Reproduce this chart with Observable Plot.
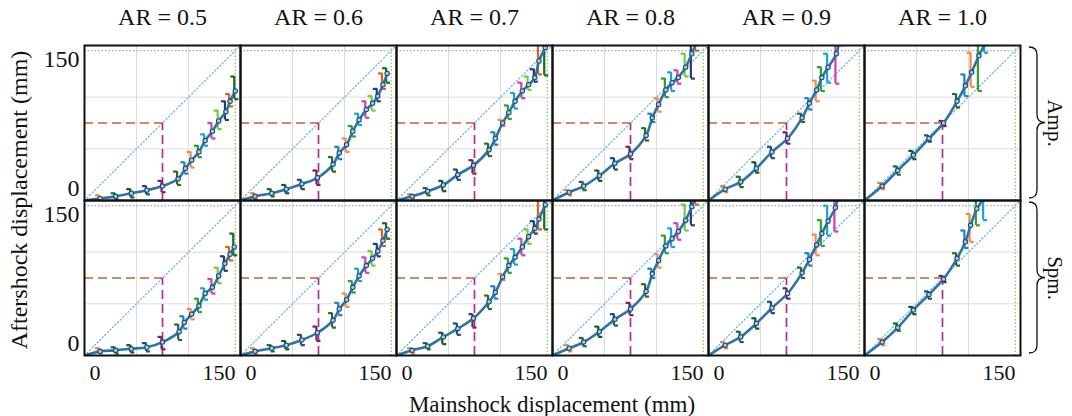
<!DOCTYPE html>
<html>
<head>
<meta charset="utf-8">
<script src="https://cdn.jsdelivr.net/npm/d3@7"></script>
<script src="https://cdn.jsdelivr.net/npm/@observablehq/plot@0.6"></script>
<style>
  html, body { margin: 0; padding: 0; background: #fff; }
  svg { font-family: "Liberation Serif", "Times New Roman", serif; }
</style>
</head>
<body>
<div id="chart"></div>
<script>
// ---- categories ----
const arLabels = ["0.5", "0.6", "0.7", "0.8", "0.9", "1.0"];
const responseRows = ["Amp.", "Spm."];
const bracketColors = ["#f07f30", "#1b6e20", "#0f5a1a", "#1d4f7a", "#7a1f5c", "#2e6b1f", "#1f7fc4",
  "#f4894a", "#2ca02c", "#19a0e6", "#d63fa8", "#74c93a", "#1f3f6a", "#e4611b", "#136b1b"];
const gridTicks = [50, 100];
const axisTicks = [0, 150];
const diagonal = [[0, 0], [150, 150]];
const thresholdDisp = 75;
const capacityDisp = 145;

// ---- series: [mainshock, aftershock, bracket low, bracket high] ----
const amp05 = [[15,2,0,5],[30,4,1,7],[45,7,3,11],[60,10,6,14],[75,14,8,19],[90,21,15,28],[97,31,26,37],[103,39,32,47],[110,47,42,53],[116,58,53,64],[123,67,60,75],[129,77,69,87],[136,86,78,96],[140,96,91,103],[145,106,98,120]];
const amp06 = [[14,4,1,7],[30,7,4,11],[44,11,7,15],[59,16,11,20],[74,22,15,29],[89,35,28,42],[95,46,40,52],[102,54,47,60],[108,67,62,72],[114,78,73,84],[121,88,80,96],[127,94,87,101],[132,101,96,108],[137,112,108,123],[141,123,114,128]];
const amp07 = [[15,4,2,6],[30,9,5,12],[45,15,9,19],[59,25,20,30],[74,34,26,39],[89,49,43,55],[95,60,54,66],[102,75,72,78],[108,85,79,92],[114,96,89,104],[121,106,99,114],[127,112,107,120],[133,119,115,127],[137,135,122,160],[143,148,121,170]];
const amp08 = [[16,8,5,10],[30,14,10,18],[45,24,19,29],[60,36,30,41],[75,45,40,52],[90,63,58,70],[96,80,76,84],[102,93,86,99],[109,107,100,118],[115,114,106,124],[121,119,113,126],[128,129,120,142],[134,142,118,153],[138,152,145,170]];
const amp09 = [[16,11,8,14],[31,18,13,23],[46,31,27,37],[61,47,41,52],[76,60,55,66],[90,80,76,84],[97,94,88,99],[104,107,96,116],[109,119,106,129],[115,129,114,142],[123,142,113,160],[126,158,150,165]];
const amp10 = [[17,14,11,17],[32,29,25,33],[47,44,40,48],[62,60,57,63],[76,75,72,77],[89,96,90,103],[97,111,101,122],[103,124,110,143],[110,140,106,165],[116,152,143,170]];
const spm05 = [[15,4,1,7],[30,5,2,8],[45,6.5,3,10],[60,8,4,12],[75,13,6,18],[91,23,15,30],[96,32,26,38],[103,40,35,45],[110,48,42,55],[116,60,54,65],[123,66,60,74],[129,77,70,85],[135,89,82,96],[140,98,92,105],[144,105,97,118]];
const spm06 = [[14,4,1,7],[30,7,4,10],[44,10,6,14],[59,15,10,20],[74,22,14,28],[89,34,27,41],[95,45,39,51],[102,54,47,60],[108,66,61,72],[114,77,72,84],[121,87,80,95],[127,94,87,101],[132,101,96,108],[137,111,106,122],[141,122,113,128]];
const spm07 = [[15,5,2,7],[30,9,6,12],[45,18,11,22],[59,26,20,31],[74,36,27,40],[89,52,45,58],[95,61,55,67],[102,76,73,79],[108,87,80,94],[114,95,88,103],[121,105,97,113],[127,115,108,122],[133,123,118,130],[137,132,122,160],[143,146,122,170]];
const spm08 = [[16,7,4,10],[30,13,9,17],[45,23,18,28],[60,35,29,40],[75,45,39,51],[90,62,57,69],[96,79,75,84],[102,92,85,98],[109,106,99,116],[115,113,105,123],[121,120,112,128],[128,131,121,146],[134,144,126,155],[138,154,146,170]];
const spm09 = [[16,10,7,13],[31,18,13,23],[46,31,26,36],[61,46,41,52],[76,60,55,65],[90,80,75,85],[97,93,87,99],[104,107,97,117],[109,118,106,131],[115,130,116,145],[122,143,120,160],[125,158,150,165]];
const spm10 = [[17,13,10,16],[32,27,24,31],[47,44,40,47],[62,59,55,62],[76,74,71,77],[89,94,87,99],[97,110,104,121],[102,126,110,137],[108,142,126,165],[115,152,131,170]];

const panelSeries = [
  ["0.5", "Amp.", amp05], ["0.6", "Amp.", amp06], ["0.7", "Amp.", amp07],
  ["0.8", "Amp.", amp08], ["0.9", "Amp.", amp09], ["1.0", "Amp.", amp10],
  ["0.5", "Spm.", spm05], ["0.6", "Spm.", spm06], ["0.7", "Spm.", spm07],
  ["0.8", "Spm.", spm08], ["0.9", "Spm.", spm09], ["1.0", "Spm.", spm10]
];

// ---- tables built from the arrays ----
const points = [];
const lineRows = [];
for (const [ar, row, pts] of panelSeries) {
  const key = ar + row;
  lineRows.push({ar, row, key, x: 0, y: 0});
  pts.forEach(([x, y, lo, hi], i) => {
    points.push({ar, row, key, x, y, lo, hi, i});
    lineRows.push({ar, row, key, x, y});
  });
}

// small cap symbols for the range brackets
const capLeft = {draw(ctx, size) { const r = Math.sqrt(size / Math.PI); ctx.moveTo(0, 0); ctx.lineTo(-r, 0); }};
const capRight = {draw(ctx, size) { const r = Math.sqrt(size / Math.PI); ctx.moveTo(0, 0); ctx.lineTo(r, 0); }};

const W = 1072, H = 416, mL = 83, mR = 52, mT = 45, mB = 61;
const FONT = 24;
const TICKFONT = 22;
const FAMILY = '"Liberation Serif", "Times New Roman", serif';

const chart = Plot.plot({
  width: W, height: H,
  marginLeft: mL, marginRight: mR, marginTop: mT, marginBottom: mB,
  style: {fontFamily: FAMILY, fontSize: FONT + "px", color: "#111", background: "white"},
  x: {domain: [0, 150]},
  y: {domain: [0, 150]},
  fx: {domain: arLabels, padding: 0},
  fy: {domain: responseRows, padding: 0},
  color: {type: "ordinal", domain: d3.range(bracketColors.length), range: bracketColors},
  marks: [
    Plot.gridX(gridTicks, {stroke: "#dcdcdc", strokeOpacity: 1}),
    Plot.gridY(gridTicks, {stroke: "#dcdcdc", strokeOpacity: 1}),
    Plot.line(diagonal, {stroke: "#6ab8ee", strokeWidth: 1.3, strokeDasharray: "1.2,2.4"}),
    Plot.ruleY([capacityDisp], {x1: 0, x2: capacityDisp, stroke: "#9aaab8", strokeWidth: 1.4, strokeDasharray: "1.5,2"}),
    Plot.ruleX([capacityDisp], {stroke: "#9ccf6a", strokeWidth: 1.4, strokeDasharray: "1.5,2"}),
    Plot.ruleY([thresholdDisp], {x1: 0, x2: thresholdDisp, stroke: "#c4622d", strokeWidth: 1.7, strokeDasharray: "9,5"}),
    Plot.ruleX([thresholdDisp], {y1: 0, y2: thresholdDisp, stroke: "#b02e8c", strokeWidth: 1.7, strokeDasharray: "9,5"}),
    Plot.ruleX(points, {x: "x", y1: "lo", y2: "hi", fx: "ar", fy: "row", stroke: "i", strokeWidth: 2.2, dx: -1, clip: true}),
    Plot.dot(points, {x: "x", y: "hi", fx: "ar", fy: "row", symbol: capLeft, r: 4, stroke: "i", strokeWidth: 2.2, dx: -1, clip: true}),
    Plot.dot(points, {x: "x", y: "lo", fx: "ar", fy: "row", symbol: capRight, r: 4, stroke: "i", strokeWidth: 2.2, dx: -1, clip: true}),
    Plot.line(lineRows, {x: "x", y: "y", z: "key", fx: "ar", fy: "row", curve: "catmull-rom", stroke: "#2f73a6", strokeWidth: 2.6, clip: true}),
    Plot.dot(points, {x: "x", y: "y", fx: "ar", fy: "row", r: 2.2, stroke: "#1d4c73", fill: "#a9cde6", strokeWidth: 1.1, clip: true}),
    Plot.frame({stroke: "#111", strokeWidth: 2}),
    Plot.axisX([0], {anchor: "bottom", tickSize: 0, tickPadding: 9, textAnchor: "start", dx: 5, fontSize: TICKFONT, fontFamily: FAMILY, label: null}),
    Plot.axisX([150], {anchor: "bottom", tickSize: 0, tickPadding: 9, textAnchor: "end", dx: -5, fontSize: TICKFONT, fontFamily: FAMILY, label: null}),
    Plot.axisY([150], {anchor: "left", tickSize: 0, tickPadding: 5, dy: 14, fontSize: FONT, fontFamily: FAMILY, label: null}),
    Plot.axisY([0], {anchor: "left", tickSize: 0, tickPadding: 5, dy: -12, fontSize: FONT, fontFamily: FAMILY, label: null}),
    Plot.axisFx({anchor: "top", tickSize: 0, tickPadding: 21, fontSize: FONT, fontFamily: FAMILY, label: null, tickFormat: d => `AR = ${d}`}),
    Plot.axisFy({anchor: "right", tickSize: 0, tickPadding: 42, tickRotate: 90, fontSize: 21, fontFamily: FAMILY, label: null})
  ]
});

document.getElementById("chart").appendChild(chart);

// decorations: axis titles and braces for the row facets
const svg = d3.select(chart);
const fyScale = chart.scale("fy");
const fxScale = chart.scale("fx");
const panelLeft = fxScale.apply(arLabels[0]);
const panelRight = fxScale.apply(arLabels[arLabels.length - 1]) + fxScale.bandwidth;
const panelTop = fyScale.apply(responseRows[0]);
const panelBottom = fyScale.apply(responseRows[responseRows.length - 1]) + fyScale.bandwidth;

svg.append("text")
  .attr("x", (panelLeft + panelRight) / 2).attr("y", H - 4)
  .attr("text-anchor", "middle").attr("font-size", 23).attr("font-family", FAMILY).attr("fill", "#111")
  .text("Mainshock displacement (mm)");
svg.append("text")
  .attr("transform", `translate(${21},${(panelTop + panelBottom) / 2}) rotate(-90)`)
  .attr("text-anchor", "middle").attr("dominant-baseline", "middle").attr("font-size", FONT).attr("font-family", FAMILY).attr("fill", "#111")
  .text("Aftershock displacement (mm)");

for (const r of responseRows) {
  const y0 = fyScale.apply(r) + 2, y1 = fyScale.apply(r) + fyScale.bandwidth - 2;
  const ym = (y0 + y1) / 2, x0 = panelRight + 9, w = 8, q = 8;
  const d = `M${x0},${y0} Q${x0 + w},${y0} ${x0 + w},${y0 + q} L${x0 + w},${ym - q} Q${x0 + w},${ym} ${x0 + 2 * w},${ym}`
    + ` Q${x0 + w},${ym} ${x0 + w},${ym + q} L${x0 + w},${y1 - q} Q${x0 + w},${y1} ${x0},${y1}`;
  svg.append("path").attr("d", d).attr("fill", "none").attr("stroke", "#111").attr("stroke-width", 1.3);
}
</script>
</body>
</html>
